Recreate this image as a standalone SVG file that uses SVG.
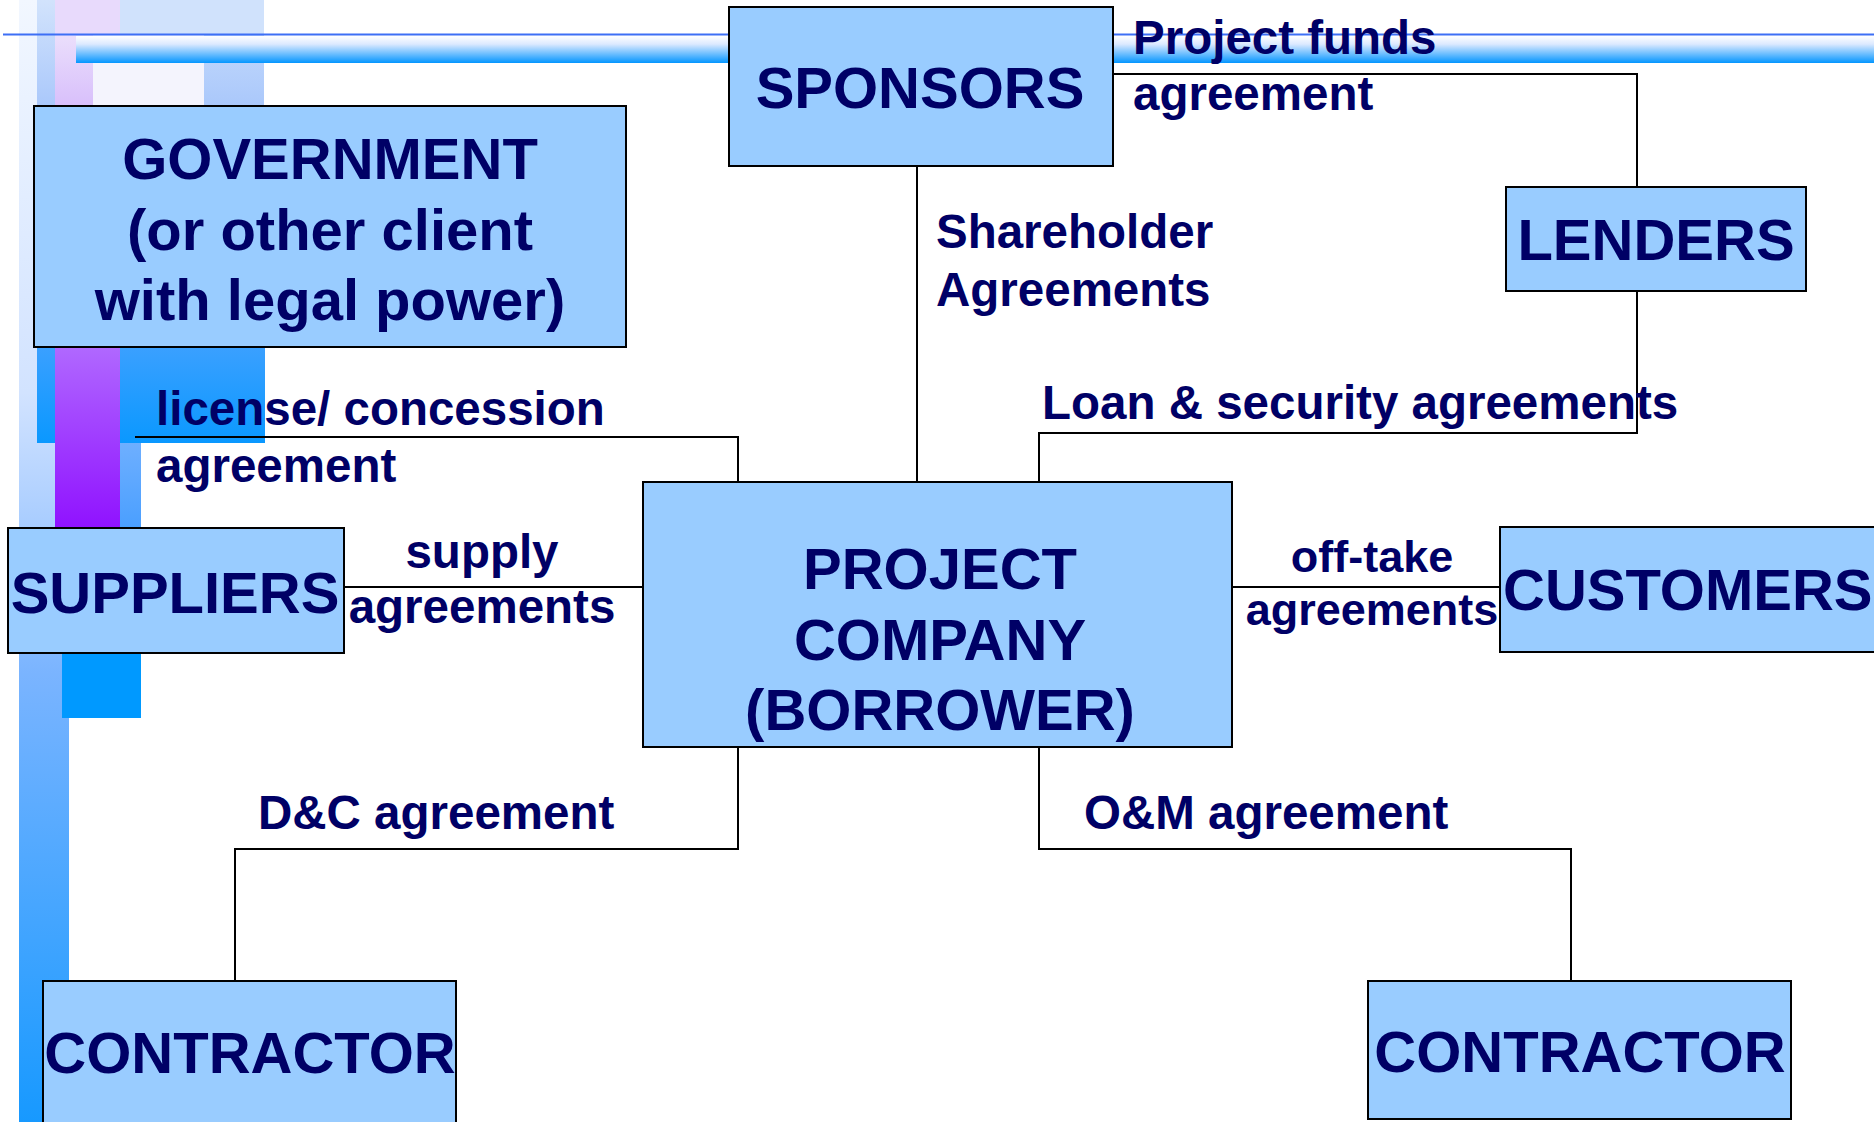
<svg xmlns="http://www.w3.org/2000/svg" width="1874" height="1122" viewBox="0 0 1874 1122">
<defs>
<linearGradient id="gL1" x1="0" y1="0" x2="0" y2="1">
<stop offset="0" stop-color="#f2f7ff"/>
<stop offset="0.35" stop-color="#d2e3ff"/>
<stop offset="0.6" stop-color="#7ab4ff"/>
<stop offset="1" stop-color="#1799ff"/>
</linearGradient>
<linearGradient id="gBar" x1="0" y1="0" x2="0" y2="1">
<stop offset="0" stop-color="#ffffff"/>
<stop offset="0.3" stop-color="#dce9ff"/>
<stop offset="1" stop-color="#0496ff"/>
</linearGradient>
<linearGradient id="gS2" x1="0" y1="0" x2="0" y2="1">
<stop offset="0" stop-color="#d2e3fc"/>
<stop offset="1" stop-color="#aac8fb"/>
</linearGradient>
<linearGradient id="gLav" x1="0" y1="0" x2="0" y2="1">
<stop offset="0" stop-color="#ebdffc"/>
<stop offset="1" stop-color="#d8bffb"/>
</linearGradient>
<linearGradient id="gPur" x1="0" y1="0" x2="0" y2="1">
<stop offset="0" stop-color="#b068ff"/>
<stop offset="1" stop-color="#9012ff"/>
</linearGradient>
<linearGradient id="gBlu" x1="0" y1="0" x2="0" y2="1">
<stop offset="0" stop-color="#3aa0ff"/>
<stop offset="1" stop-color="#0a98ff"/>
</linearGradient>
<linearGradient id="gBlu2" x1="0" y1="0" x2="0" y2="1">
<stop offset="0" stop-color="#6eafff"/>
<stop offset="1" stop-color="#4a9fff"/>
</linearGradient>
<linearGradient id="gS4" x1="0" y1="0" x2="0" y2="1">
<stop offset="0" stop-color="#c2d8fc"/>
<stop offset="1" stop-color="#aac8fb"/>
</linearGradient>
</defs>
<style>
.box{fill:#99ccff;stroke:#000;stroke-width:2}
.bt{font-family:"Liberation Sans",Arial,sans-serif;font-weight:bold;font-size:58px;fill:#000066;text-anchor:middle}
.lb{font-family:"Liberation Sans",Arial,sans-serif;font-weight:bold;font-size:47.5px;fill:#000066}
.mid{text-anchor:middle}
.cn{fill:none;stroke:#000;stroke-width:2}
</style>
<rect x="0" y="0" width="1874" height="1122" fill="#ffffff"/>
<g id="decoration">
<rect x="19" y="0" width="50" height="1122" fill="url(#gL1)"/>
<rect x="37" y="0" width="18" height="106" fill="url(#gS2)"/>
<rect x="55" y="0" width="65" height="34" fill="#e8dafc"/>
<rect x="55" y="34" width="38" height="72" fill="url(#gLav)"/>
<rect x="120" y="0" width="144" height="34" fill="#d0e2fc"/>
<rect x="93" y="34" width="111" height="72" fill="#f4f4fd"/>
<rect x="204" y="34" width="60" height="72" fill="url(#gS4)"/>
<rect x="37" y="347" width="18" height="96" fill="url(#gBlu)"/>
<rect x="120" y="347" width="145" height="96" fill="url(#gBlu)"/>
<rect x="120" y="443" width="21" height="85" fill="url(#gBlu2)"/>
<rect x="55" y="347" width="65" height="181" fill="url(#gPur)"/>
<rect x="62" y="653" width="79" height="65" fill="#0099ff"/>
<rect x="76" y="36" width="1798" height="27" fill="url(#gBar)"/>
<line x1="3" y1="34.5" x2="1874" y2="34.5" stroke="#3d6ff5" stroke-width="2"/>
</g>
<g id="connectors">
<path class="cn" d="M1113,74 H1637 V187"/>
<path class="cn" d="M917,167 V482"/>
<path class="cn" d="M1637,291 V433 H1039 V482"/>
<path class="cn" d="M135,437 H738 V482"/>
<path class="cn" d="M344,587 H643"/>
<path class="cn" d="M1232,587 H1500"/>
<path class="cn" d="M738,747 V849 H235 V981"/>
<path class="cn" d="M1039,747 V849 H1571 V981"/>
</g>
<g id="sponsors">
<rect class="box" x="729" y="7" width="384" height="159"/>
<text class="bt" x="920" y="108">SPONSORS</text>
</g>
<g id="government">
<rect class="box" x="34" y="106" width="592" height="241"/>
<text class="bt" x="330" y="179">GOVERNMENT</text>
<text class="bt" x="330" y="250">(or other client</text>
<text class="bt" x="330" y="320">with legal power)</text>
</g>
<g id="lenders">
<rect class="box" x="1506" y="187" width="300" height="104"/>
<text class="bt" x="1656" y="260">LENDERS</text>
</g>
<g id="project-company">
<rect class="box" x="643" y="482" width="589" height="265"/>
<text class="bt" x="940" y="589">PROJECT</text>
<text class="bt" x="940" y="660">COMPANY</text>
<text class="bt" x="940" y="730">(BORROWER)</text>
</g>
<g id="suppliers">
<rect class="box" x="8" y="528" width="336" height="125"/>
<text class="bt" x="175" y="613">SUPPLIERS</text>
</g>
<g id="customers">
<rect class="box" x="1500" y="527" width="380" height="125"/>
<text class="bt" x="1503" y="610" style="text-anchor:start">CUSTOMERS</text>
</g>
<g id="contractor-dc">
<rect class="box" x="43" y="981" width="413" height="150"/>
<text class="bt" x="250" y="1073">CONTRACTOR</text>
</g>
<g id="contractor-om">
<rect class="box" x="1368" y="981" width="423" height="138"/>
<text class="bt" x="1580" y="1072">CONTRACTOR</text>
</g>
<g id="labels">
<text class="lb" x="1133" y="54">Project funds</text>
<text class="lb" x="1133" y="110">agreement</text>
<text class="lb" x="936" y="248">Shareholder</text>
<text class="lb" x="936" y="306">Agreements</text>
<text class="lb" x="1042" y="419">Loan &amp; security agreements</text>
<text class="lb" x="156" y="425">license/ concession</text>
<text class="lb" x="156" y="482">agreement</text>
<text class="lb mid" x="482" y="568">supply</text>
<text class="lb mid" x="482" y="623">agreements</text>
<text class="lb mid" x="1372" y="572" style="font-size:45px">off-take</text>
<text class="lb mid" x="1372" y="625" style="font-size:45px">agreements</text>
<text class="lb" x="258" y="829">D&amp;C agreement</text>
<text class="lb" x="1084" y="829">O&amp;M agreement</text>
</g>
</svg>
